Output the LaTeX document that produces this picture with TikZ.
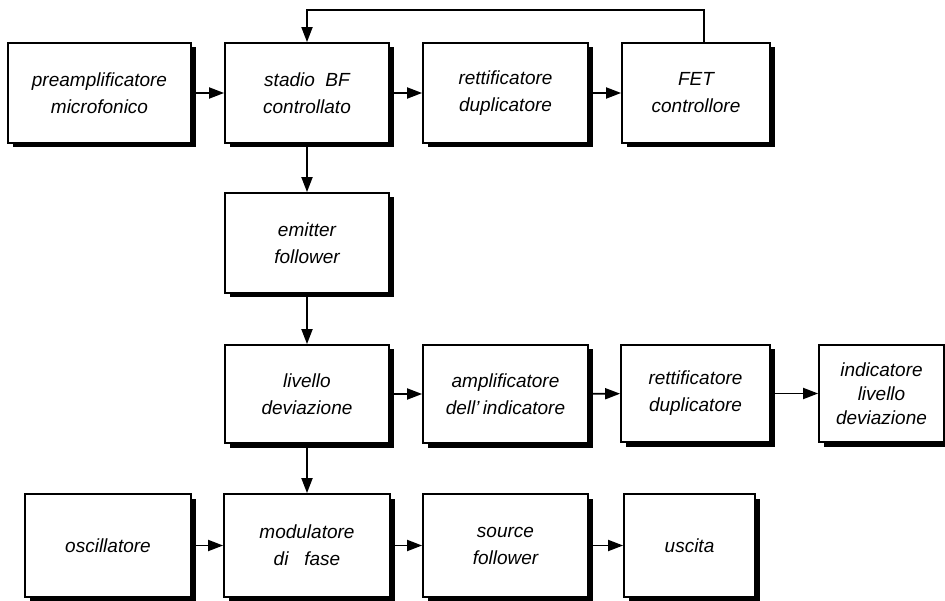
\documentclass[tikz,border=0pt]{standalone}
\usepackage{fontspec}
\setmainfont{Liberation Sans}
\usetikzlibrary{arrows.meta, positioning, shadows}
\tikzset{
    blocco/.style={rectangle, draw=black, line width=1.8pt, fill=white, align=center,
        inner sep=0pt, minimum height=100pt, font=\fontsize{19}{27}\selectfont\itshape,
        drop shadow={shadow xshift=4.5pt, shadow yshift=-4.5pt, fill=black, opacity=1}},
    freccia/.style={-{Triangle[length=15pt, width=11pt]}, line width=1.8pt},
}

\begin{document}
\begin{tikzpicture}[x=1pt, y=-1pt]
    \useasboundingbox (0,0) rectangle (945,601);
    % catena di controllo
    \node[blocco, minimum width=183pt] (preamp) at (99.5,93) {preamplificatore\\microfonico};
    \node[blocco, minimum width=164pt] (stadio) at (307,93) {stadio\ \ BF\\controllato};
    \node[blocco, minimum width=165pt] (rett) at (505.5,93) {rettificatore\\duplicatore};
    \node[blocco, minimum width=148pt] (fet) at (696,93) {FET\\controllore};
    \node[blocco, minimum width=164pt] (emitter) at (307,243) {emitter\\follower};

    % indicatore di deviazione
    \node[blocco, minimum width=164pt, minimum height=98pt] (livello) at (307,394) {livello\\deviazione};
    \node[blocco, minimum width=165pt, minimum height=98pt] (ampind) at (505.5,394) {amplificatore\\dell'\,indicatore};
    \node[blocco, minimum width=149pt, minimum height=97pt] (rettind) at (695.5,393.5) {rettificatore\\duplicatore};
    \node[blocco, minimum width=125pt, minimum height=97pt, font=\fontsize{19}{24}\selectfont\itshape] (indic) at (881.5,393.5) {indicatore\\livello\\deviazione};

    % uscita modulata
    \node[blocco, minimum width=166pt, minimum height=103pt] (osc) at (108,545.5) {oscillatore};
    \node[blocco, minimum width=166pt, minimum height=103pt] (modul) at (307,545.5) {modulatore\\di\ \ \ fase};
    \node[blocco, minimum width=165pt, minimum height=103pt] (source) at (505.5,545.5) {source\\follower};
    \node[blocco, minimum width=131pt, minimum height=103pt] (uscita) at (689.5,545.5) {uscita};

    % collegamenti
    \draw[freccia] (preamp) -- (stadio);
    \draw[freccia] (stadio) -- (rett);
    \draw[freccia] (rett) -- (fet);
    \draw[freccia] ([xshift=8pt]fet.north) -- ++(0,-32) -| (stadio.north);
    \draw[freccia] (stadio) -- (emitter);
    \draw[freccia] (emitter) -- (livello);
    \draw[freccia] (livello) -- (ampind);
    \draw[freccia] (ampind) -- (rettind);
    \draw[freccia] (rettind) -- (indic);
    \draw[freccia] (livello) -- (modul);
    \draw[freccia] (osc) -- (modul);
    \draw[freccia] (modul) -- (source);
    \draw[freccia] (source) -- (uscita);
\end{tikzpicture}
\end{document}
